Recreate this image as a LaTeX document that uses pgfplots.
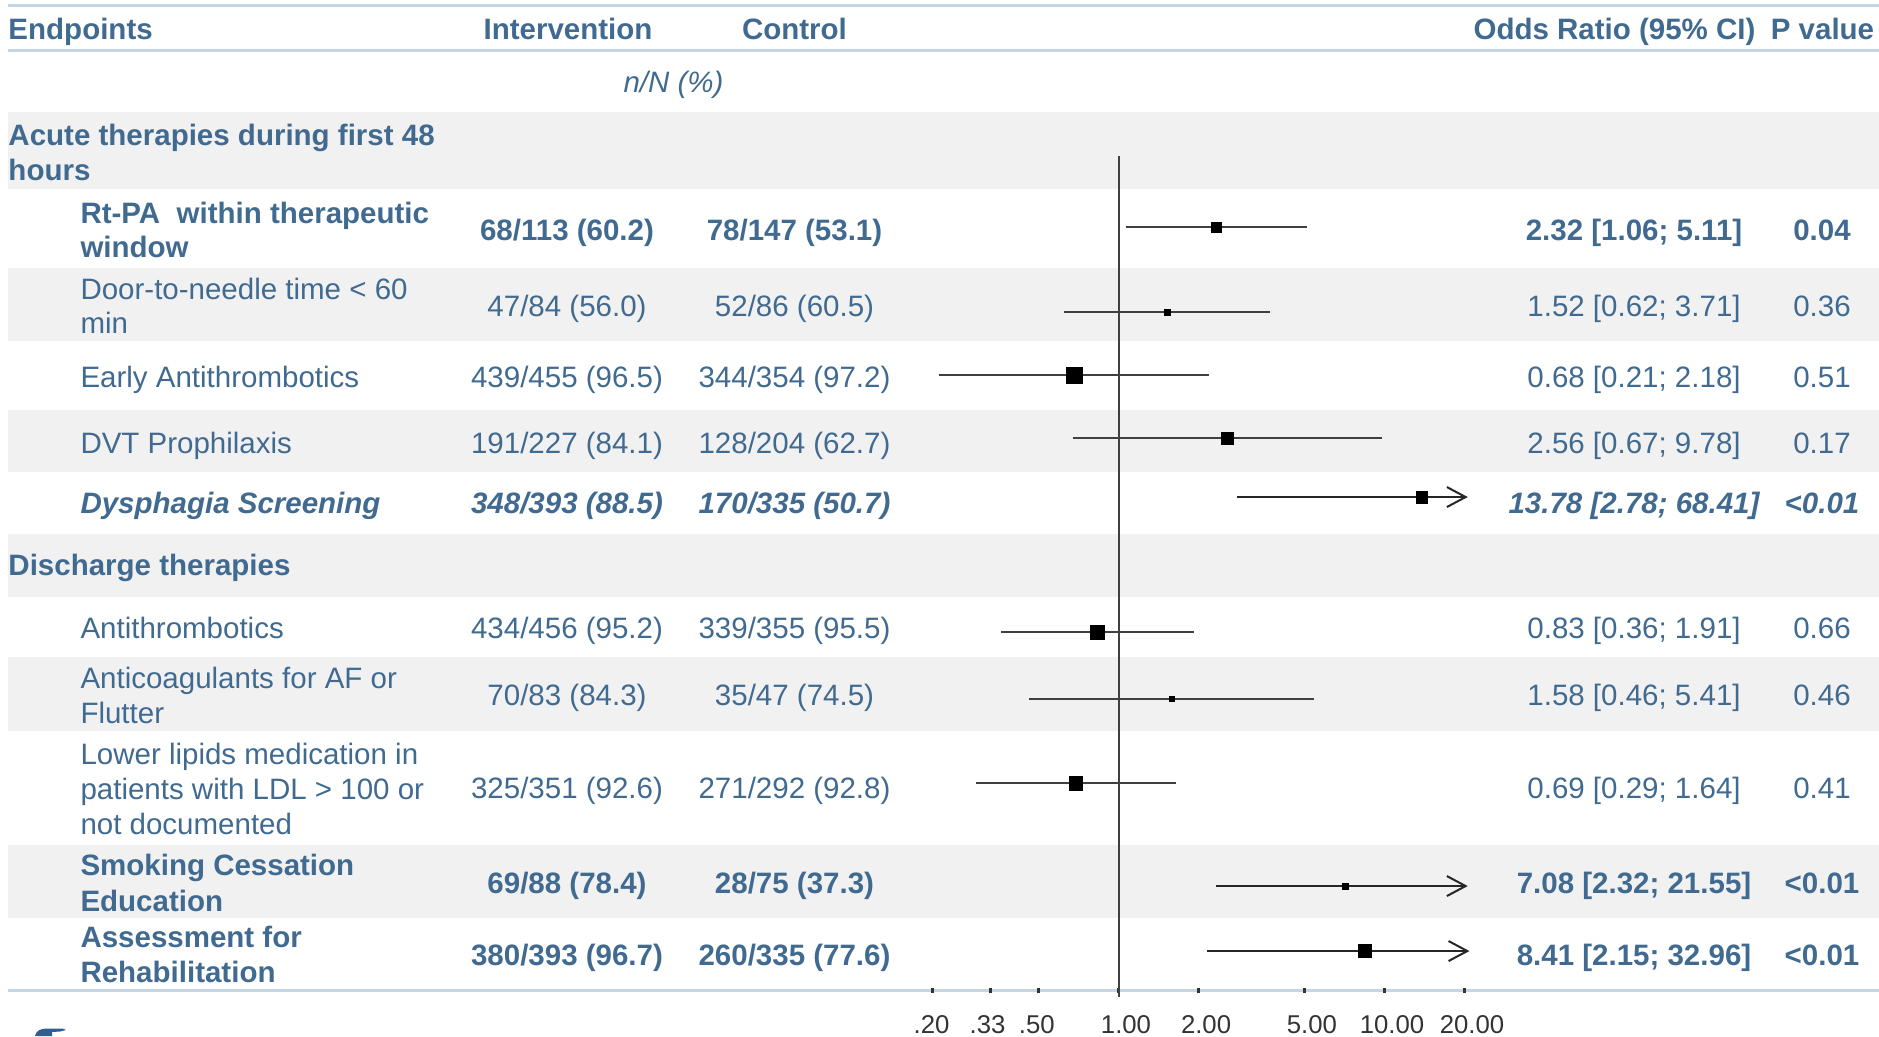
\documentclass[border=0pt]{standalone}
\usepackage{pgfplots}
\pgfplotsset{compat=1.18}
\usepackage{fontspec}
\setmainfont{Liberation Sans}
\usetikzlibrary{arrows.meta}
\definecolor{txt}{HTML}{416A91}
\definecolor{rulec}{HTML}{C4D5E5}
\definecolor{band}{HTML}{F1F1F1}
\definecolor{tickc}{HTML}{333333}
\definecolor{logo}{HTML}{2E5F8F}
\newcommand{\fs}{\fontsize{11.8}{14}\selectfont}
\begin{document}
\begin{tikzpicture}[x=0.4pt,y=-0.4pt,
  t/.style={inner sep=0pt, text=txt, font=\fs, anchor=base},
  tl/.style={t, anchor=base west},
  tb/.style={t, font=\fs\bfseries},
  tbl/.style={tb, anchor=base west},
  tbi/.style={t, font=\fs\bfseries\itshape},
  tbil/.style={tbi, anchor=base west}]
\useasboundingbox (0,0) rectangle (1879,1036);
% bands
\fill[band] (8,112) rectangle (1879,189);
\fill[band] (8,268) rectangle (1879,341);
\fill[band] (8,410) rectangle (1879,472);
\fill[band] (8,534) rectangle (1879,597);
\fill[band] (8,657) rectangle (1879,731);
\fill[band] (8,845) rectangle (1879,918);
% rules
\draw[rulec, line width=1.2pt] (8,5)--(1879,5) (8,50.5)--(1879,50.5) (8,990)--(1879,990);
% header
\node[tbl] at (8,39) {Endpoints};
\node[tb] at (568,39) {Intervention};
\node[tb] at (794.5,39) {Control};
\node[tb] at (1614.5,39) {Odds Ratio (95\% CI)};
\node[tb] at (1822.5,39) {P value};
\node[t, font=\fs\itshape] at (673.5,92) {n/N (\%)};
% group 1
\node[tbl] at (8,145) {Acute therapies during first 48};
\node[tbl] at (8,180) {hours};
% Rt-PA
\node[tbl] at (80,223) {Rt-PA\ \ within therapeutic};
\node[tbl] at (80,257) {window};
\node[tb] at (567,240) {68/113 (60.2)};
\node[tb] at (794.5,240) {78/147 (53.1)};
\node[tb] at (1634,240) {2.32 [1.06; 5.11]};
\node[tb] at (1822,240) {0.04};
% Door
\node[tl] at (80,299) {Door-to-needle time < 60};
\node[tl] at (80,333) {min};
\node[t] at (567,316) {47/84 (56.0)};
\node[t] at (794.5,316) {52/86 (60.5)};
\node[t] at (1634,316) {1.52 [0.62; 3.71]};
\node[t] at (1822,316) {0.36};
% Early
\node[tl] at (80,387) {Early Antithrombotics};
\node[t] at (567,387) {439/455 (96.5)};
\node[t] at (794.5,387) {344/354 (97.2)};
\node[t] at (1634,387) {0.68 [0.21; 2.18]};
\node[t] at (1822,387) {0.51};
% DVT
\node[tl] at (80,453) {DVT Prophilaxis};
\node[t] at (567,453) {191/227 (84.1)};
\node[t] at (794.5,453) {128/204 (62.7)};
\node[t] at (1634,453) {2.56 [0.67; 9.78]};
\node[t] at (1822,453) {0.17};
% Dysphagia
\node[tbil] at (80,513) {Dysphagia Screening};
\node[tbi] at (567,513) {348/393 (88.5)};
\node[tbi] at (794.5,513) {170/335 (50.7)};
\node[tbi] at (1634,513) {13.78 [2.78; 68.41]};
\node[tbi] at (1822,513) {<0.01};
% group 2
\node[tbl] at (8,575) {Discharge therapies};
% Antithrombotics
\node[tl] at (80,638) {Antithrombotics};
\node[t] at (567,638) {434/456 (95.2)};
\node[t] at (794.5,638) {339/355 (95.5)};
\node[t] at (1634,638) {0.83 [0.36; 1.91]};
\node[t] at (1822,638) {0.66};
% Anticoagulants
\node[tl] at (80,688) {Anticoagulants for AF or};
\node[tl] at (80,723) {Flutter};
\node[t] at (567,705) {70/83 (84.3)};
\node[t] at (794.5,705) {35/47 (74.5)};
\node[t] at (1634,705) {1.58 [0.46; 5.41]};
\node[t] at (1822,705) {0.46};
% Lipids
\node[tl] at (80,764) {Lower lipids medication in};
\node[tl] at (80,799) {patients with LDL > 100 or};
\node[tl] at (80,834) {not documented};
\node[t] at (567,798) {325/351 (92.6)};
\node[t] at (794.5,798) {271/292 (92.8)};
\node[t] at (1634,798) {0.69 [0.29; 1.64]};
\node[t] at (1822,798) {0.41};
% Smoking
\node[tbl] at (80,875) {Smoking Cessation};
\node[tbl] at (80,911) {Education};
\node[tb] at (567,893) {69/88 (78.4)};
\node[tb] at (794.5,893) {28/75 (37.3)};
\node[tb] at (1634,893) {7.08 [2.32; 21.55]};
\node[tb] at (1822,893) {<0.01};
% Rehab
\node[tbl] at (80,947) {Assessment for};
\node[tbl] at (80,982) {Rehabilitation};
\node[tb] at (567,965) {380/393 (96.7)};
\node[tb] at (794.5,965) {260/335 (77.6)};
\node[tb] at (1634,965) {8.41 [2.15; 32.96]};
\node[tb] at (1822,965) {<0.01};
% logo fragment
\fill[logo] (35,1036) .. controls (36,1031) and (40,1028.5) .. (47,1028.5) -- (58,1028.5) .. controls (62,1028.3) and (65,1028.8) .. (66,1030) -- (60,1031.5) -- (52,1032) -- (52,1036) -- cycle;

\begin{axis}[
  at={(0pt,-396pt)}, anchor=south west,
  scale only axis, width=751.6pt, height=396pt,
  xmode=log, xmin=6.2227e-5, xmax=720.86,
  ymin=0, ymax=990, y dir=reverse,
  axis x line*=bottom, axis y line=none,
  axis line style={draw=none},
  xtick={0.2,0.33,0.5,1,2,5,10,20},
  xticklabels={\kern-0.1em.20,\kern-0.25em.33,\kern-0.15em.50,\hphantom{0}1.00,\hphantom{0}2.00,\hphantom{0}5.00,\hphantom{0}10.00,\hphantom{0}20.00},
  minor xtick={}, xminorticks=false,
  major tick length=2pt, tick align=center,
  tick style={draw=black!80, line width=1.2pt},
  xticklabel style={anchor=base, yshift=-16.2pt, inner sep=0pt, text=tickc, font=\fontsize{10.3}{12}\selectfont},
  clip=false,
]
% reference line at OR = 1
\addplot[black!75, line width=0.8pt] coordinates {(1,156) (1,997)};
% confidence intervals
\addplot[black!75, line width=0.6pt] coordinates {(1.06,227) (5.11,227)};
\addplot[black!75, line width=0.6pt] coordinates {(0.62,312) (3.71,312)};
\addplot[black!75, line width=0.6pt] coordinates {(0.21,375) (2.18,375)};
\addplot[black!75, line width=0.6pt] coordinates {(0.67,438) (9.78,438)};
\addplot[black!85, line width=0.6pt, -{Straight Barb[length=7.5pt,width=8pt,line width=0.8pt]}] coordinates {(2.78,497) (20.5,497)};
\addplot[black!75, line width=0.6pt] coordinates {(0.36,632) (1.91,632)};
\addplot[black!75, line width=0.6pt] coordinates {(0.46,699) (5.41,699)};
\addplot[black!75, line width=0.6pt] coordinates {(0.29,783) (1.64,783)};
\addplot[black!85, line width=0.6pt, -{Straight Barb[length=7.5pt,width=8pt,line width=0.8pt]}] coordinates {(2.32,886) (20.5,886)};
\addplot[black!85, line width=0.6pt, -{Straight Barb[length=7.5pt,width=8pt,line width=0.8pt]}] coordinates {(2.15,951) (20.8,951)};
% point estimates
\addplot[only marks, mark=square*, mark size=1.9pt, mark options={black, line width=0.2pt}] coordinates {(2.32,227)};
\addplot[only marks, mark=square*, mark size=1.3pt, mark options={black, line width=0.2pt}] coordinates {(1.52,312)};
\addplot[only marks, mark=square*, mark size=3.1pt, mark options={black, line width=0.2pt}] coordinates {(0.68,375)};
\addplot[only marks, mark=square*, mark size=2.3pt, mark options={black, line width=0.2pt}] coordinates {(2.56,438)};
\addplot[only marks, mark=square*, mark size=2.3pt, mark options={black, line width=0.2pt}] coordinates {(13.78,497)};
\addplot[only marks, mark=square*, mark size=2.9pt, mark options={black, line width=0.2pt}] coordinates {(0.83,632)};
\addplot[only marks, mark=square*, mark size=1.0pt, mark options={black, line width=0.2pt}] coordinates {(1.58,699)};
\addplot[only marks, mark=square*, mark size=2.7pt, mark options={black, line width=0.2pt}] coordinates {(0.69,783)};
\addplot[only marks, mark=square*, mark size=1.2pt, mark options={black, line width=0.2pt}] coordinates {(7.08,886)};
\addplot[only marks, mark=square*, mark size=2.6pt, mark options={black, line width=0.2pt}] coordinates {(8.41,951)};
\end{axis}
\end{tikzpicture}
\end{document}
